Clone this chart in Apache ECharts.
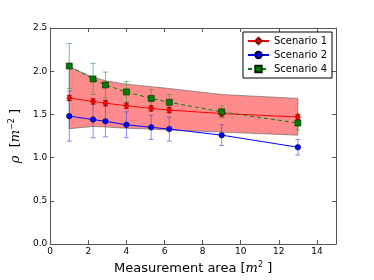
<!DOCTYPE html>
<html><head><meta charset="utf-8">
<script src="https://cdn.jsdelivr.net/npm/echarts@6/dist/echarts.min.js"></script>
<style>html,body{margin:0;padding:0;background:#fff}#c{width:374px;height:280px}</style>
</head><body><div id="c"></div>
<script>
const areas = [1, 2.25, 2.9, 4, 5.3, 6.25, 9, 13];
const s1 = [1.69, 1.65, 1.63, 1.60, 1.57, 1.55, 1.51, 1.47];
const s1err = [0.03, 0.03, 0.03, 0.03, 0.03, 0.03, 0.03, 0.03];
const s2 = [1.48, 1.44, 1.42, 1.38, 1.35, 1.33, 1.26, 1.12];
const s2err = [0.29, 0.21, 0.18, 0.15, 0.14, 0.14, 0.12, 0.09];
const s4 = [2.06, 1.91, 1.84, 1.76, 1.685, 1.64, 1.53, 1.40];
const s4err = [0.26, 0.18, 0.15, 0.12, 0.10, 0.09, 0.07, 0.08];
const bandUpper = [2.05, 1.93, 1.89, 1.85, 1.82, 1.80, 1.73, 1.685];
const bandLower = [1.335, 1.36, 1.355, 1.34, 1.33, 1.32, 1.295, 1.26];
const xTicks = [0, 2, 4, 6, 8, 10, 12, 14];
const yTicks = [0.0, 0.5, 1.0, 1.5, 2.0, 2.5];

const FONT = 'DejaVu Sans';
const chart = echarts.init(document.getElementById('c'), null, {renderer: 'canvas'});

function pts(ys) { return areas.map((x, i) => [x, ys[i]]); }
function errData(ys, es) { return areas.map((x, i) => [x, ys[i], es[i]]); }
function errSeries(name, ys, es, color) {
  return {
    type: 'custom', name: name, z: 3, silent: true,
    data: errData(ys, es),
    renderItem: function (params, api) {
      const x = api.value(0), y = api.value(1), e = api.value(2);
      const top = api.coord([x, y + e]);
      const bot = api.coord([x, y - e]);
      const cw = 2.5;
      const st = {stroke: color, lineWidth: 1};
      return {type: 'group', children: [
        {type: 'line', shape: {x1: top[0], y1: top[1], x2: bot[0], y2: bot[1]}, style: st},
        {type: 'line', shape: {x1: top[0] - cw, y1: top[1], x2: top[0] + cw, y2: top[1]}, style: st},
        {type: 'line', shape: {x1: bot[0] - cw, y1: bot[1], x2: bot[0] + cw, y2: bot[1]}, style: st}
      ]};
    }
  };
}
const frameLine = {show: true, onZero: false, lineStyle: {color: '#555', width: 1}};
const frameTick = {show: true, inside: true, length: 4, lineStyle: {color: '#555'}};
const nameRich = {
  i: {fontFamily: 'DejaVu Serif', fontStyle: 'italic', fontSize: 13, color: '#000'},
  sup: {fontSize: 8, verticalAlign: 'top', padding: [0, 0, 7, 0], color: '#000'}
};

const option = {
  animation: false,
  textStyle: {fontFamily: FONT},
  grid: {left: 47, right: 38, top: 28, bottom: 28, containLabel: false},
  legend: {
    right: 42, top: 32, orient: 'vertical',
    itemWidth: 21, itemHeight: 8, itemGap: 4,
    padding: [4, 5, 4, 4],
    borderColor: '#000', borderWidth: 1, backgroundColor: '#fff',
    textStyle: {fontFamily: FONT, fontSize: 10, color: '#000'},
    data: ['Scenario 1', 'Scenario 2', 'Scenario 4']
  },
  xAxis: [{
    type: 'value', min: 0, max: 15, interval: 2,
    name: 'Measurement area [{i|m}{sup|2} ]', nameLocation: 'middle', nameGap: 17,
    nameTextStyle: {fontFamily: FONT, fontSize: 13, color: '#000', rich: nameRich},
    axisLine: frameLine, axisTick: frameTick,
    axisLabel: {fontFamily: FONT, fontSize: 9, color: '#000', margin: 3,
      formatter: v => (xTicks.indexOf(v) >= 0 ? String(v) : '')},
    splitLine: {show: false}
  }, {
    type: 'value', min: 0, max: 15, interval: 2, position: 'top',
    axisLine: frameLine, axisTick: frameTick,
    axisLabel: {show: false}, splitLine: {show: false}
  }],
  yAxis: [{
    type: 'value', min: 0, max: 2.5, interval: 0.5,
    name: '{i|ρ}  [{i|m}{sup|−2} ]', nameLocation: 'middle', nameGap: 16, nameRotate: 90,
    nameTextStyle: {fontFamily: FONT, fontSize: 13, color: '#000', rich: nameRich},
    axisLine: frameLine, axisTick: frameTick,
    axisLabel: {fontFamily: FONT, fontSize: 9, color: '#000', margin: 3,
      formatter: v => (yTicks.indexOf(v) >= 0 ? v.toFixed(1) : '')},
    splitLine: {show: false}
  }, {
    type: 'value', min: 0, max: 2.5, interval: 0.5, position: 'right',
    axisLine: frameLine, axisTick: frameTick,
    axisLabel: {show: false}, splitLine: {show: false}
  }],
  series: [
    {
      type: 'custom', name: 'band', z: 1, silent: true,
      data: [0],
      renderItem: function (params, api) {
        const up = areas.map((x, i) => api.coord([x, bandUpper[i]]));
        const lo = areas.map((x, i) => api.coord([x, bandLower[i]])).reverse();
        return {type: 'polygon', shape: {points: up.concat(lo)},
          style: {fill: 'rgba(255,0,0,0.45)', stroke: 'rgba(90,90,90,0.6)', lineWidth: 1}};
      }
    },
    errSeries('e1', s1, s1err, 'rgba(180,0,0,0.9)'),
    errSeries('e2', s2, s2err, 'rgba(60,60,255,0.6)'),
    errSeries('e4', s4, s4err, 'rgba(40,150,40,0.6)'),
    {
      type: 'line', name: 'Scenario 1', data: pts(s1), z: 4,
      lineStyle: {color: '#ff0000', width: 1},
      symbol: 'diamond', symbolSize: [5, 7],
      itemStyle: {color: '#ff0000', borderColor: '#800000', borderWidth: 0.6}
    },
    {
      type: 'line', name: 'Scenario 2', data: pts(s2), z: 4,
      lineStyle: {color: '#0000ff', width: 1},
      symbol: 'circle', symbolSize: 5.5,
      itemStyle: {color: '#0000ff', borderColor: '#000040', borderWidth: 0.6}
    },
    {
      type: 'line', name: 'Scenario 4', data: pts(s4), z: 4,
      lineStyle: {color: '#008000', width: 1, type: [4, 3]},
      symbol: 'rect', symbolSize: 6,
      itemStyle: {color: '#008000', borderColor: '#002000', borderWidth: 0.6}
    }
  ]
};
chart.setOption(option);
</script>
</body></html>
